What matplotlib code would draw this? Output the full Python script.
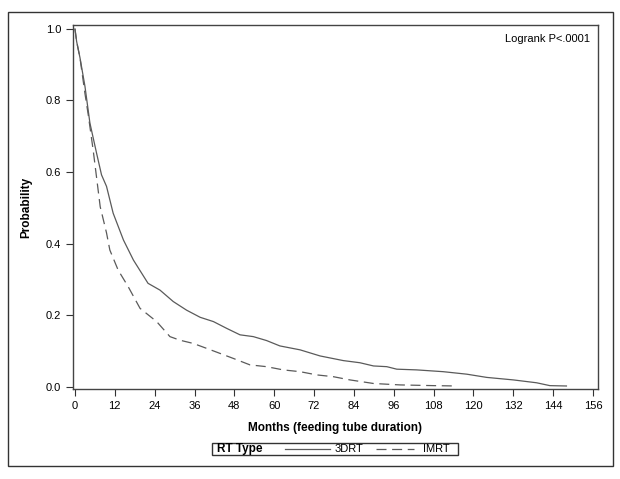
import numpy as np
import matplotlib
matplotlib.use("Agg")
from matplotlib import pyplot as plt
from matplotlib.lines import Line2D
from matplotlib.patches import Rectangle

plt.rcParams['font.family'] = ['Liberation Sans', 'DejaVu Sans']

# Kaplan-Meier curves (months, probability)
months_3drt = [0, 0.5, 1.5, 3, 4.5, 6.5, 8, 9.5, 11.5, 14.6, 17.6, 22, 25.6, 29.6, 33.6,
               37.7, 41.7, 45.7, 49.7, 53.7, 57.7, 61.7, 67.8, 73.8, 80.8, 85.8, 89.9,
               93.9, 96.9, 102.9, 110.9, 118, 124, 132, 139, 143, 148]
prob_3drt = [1.0, 0.965, 0.92, 0.84, 0.737, 0.653, 0.592, 0.56, 0.485, 0.41, 0.354, 0.289,
             0.27, 0.238, 0.214, 0.194, 0.182, 0.163, 0.145, 0.14, 0.129, 0.114, 0.103,
             0.086, 0.073, 0.067, 0.058, 0.056, 0.049, 0.047, 0.042, 0.035, 0.026, 0.019,
             0.011, 0.003, 0.002]

months_imrt = [0, 0.5, 1.5, 3, 4, 5.5, 7.6, 9.5, 10.5, 13, 16, 19.6, 24.6, 28.6, 31.6,
               35.6, 39.7, 43.7, 47.7, 52.7, 57.7, 62.7, 67.8, 72.8, 77.8, 82.8, 89.9,
               97.9, 108, 115]
prob_imrt = [1.0, 0.965, 0.92, 0.82, 0.76, 0.66, 0.503, 0.43, 0.382, 0.326, 0.28, 0.219,
             0.182, 0.14, 0.13, 0.121, 0.107, 0.093, 0.079, 0.061, 0.056, 0.047, 0.042,
             0.033, 0.028, 0.019, 0.009, 0.005, 0.003, 0.002]

x_ticks = list(range(0, 157, 12))
y_ticks = [0.0, 0.2, 0.4, 0.6, 0.8, 1.0]

line_col = '#5a5a5a'

fig = plt.figure(figsize=(6.2, 4.79), dpi=100)
fig.patch.set_facecolor('white')
ax = fig.add_axes([0.1177, 0.1879, 0.8468, 0.7599])

ax.plot(months_3drt, prob_3drt, color=line_col, lw=0.9, ls='-')
ax.plot(months_imrt, prob_imrt, color=line_col, lw=0.9, ls=(0, (8, 4.5)))

ax.set_xlim(-0.6, 157.5)
ax.set_ylim(-0.0064, 1.011)
ax.set_xticks(x_ticks)
ax.set_yticks(y_ticks)
ax.set_yticklabels(['%.1f' % v for v in y_ticks])
ax.tick_params(direction='out', length=5, width=0.8, labelsize=8, colors='#333333',
               labelcolor='black')
for s in ax.spines.values():
    s.set_color('#444444')
    s.set_linewidth(1.0)

ax.set_xlabel('Months (feeding tube duration)', fontsize=8.5, fontweight='bold', labelpad=8)
ax.set_ylabel('Probability', fontsize=8.5, fontweight='bold', labelpad=10)

ax.text(0.985, 0.975, 'Logrank P<.0001', transform=ax.transAxes, ha='right', va='top',
        fontsize=8)

# outer frame
fig.add_artist(Rectangle((8 / 620, 1 - 466 / 479), 605 / 620, 454 / 479,
                         transform=fig.transFigure, fill=False, ec='#333333', lw=1.0))

# legend box
ly = 1 - 449 / 479
fig.add_artist(Rectangle((212 / 620, 1 - 455 / 479), 246 / 620, 12 / 479,
                         transform=fig.transFigure, fill=False, ec='#333333', lw=1.0))
fig.text(217 / 620, ly, 'RT Type', fontsize=8.5, fontweight='bold', va='center')
fig.add_artist(Line2D([285 / 620, 330 / 620], [ly, ly], transform=fig.transFigure,
                      color=line_col, lw=0.9))
fig.text(335 / 620, ly, '3DRT', fontsize=8, va='center')
fig.add_artist(Line2D([376 / 620, 414 / 620], [ly, ly], transform=fig.transFigure,
                      color=line_col, lw=0.9, ls=(0, (8, 4.5))))
fig.text(423 / 620, ly, 'IMRT', fontsize=8, va='center')

fig.savefig('out.png', dpi=100)
